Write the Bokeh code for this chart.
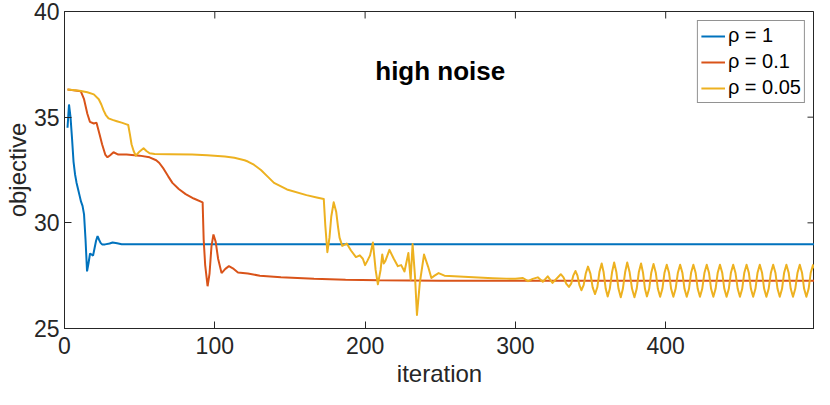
import math
from bokeh.plotting import figure
from bokeh.models import Range1d, Label, FixedTicker
from bokeh.embed import file_html
from bokeh.resources import INLINE

# ---- data ----
it_rho1 = [2, 3, 4, 5, 6, 7, 8, 9, 10, 11, 12, 13, 14, 15, 16, 17, 18, 19, 20, 21,
           22, 23, 24, 25, 27, 30, 32, 35, 38, 499]
obj_rho1 = [34.5, 35.6, 35.0, 34.0, 32.9, 32.3, 31.9, 31.6, 31.3, 31.0, 30.8, 30.4, 29.2,
            27.7, 28.1, 28.55, 28.5, 28.45, 28.8, 29.15, 29.37, 29.2, 29.05, 28.98, 28.98,
            29.02, 29.07, 29.03, 28.99, 28.99]

it_rho01 = [2, 6, 10.8, 13, 15.2, 16.9, 19.5, 21.3, 23.4, 25, 27.1, 28.6, 30.4, 32.6, 35.8,
            41.3, 50, 56.6, 61, 63.1, 66, 69, 71.8, 76, 80.6, 86, 91.9, 92.6, 93.6, 95.2,
            96.5, 97.8, 99.1, 100.6, 102.2, 104.5, 107, 109.4, 112, 115.4, 122, 130, 144,
            166, 187, 209, 250, 499]
obj_rho01 = [36.31, 36.27, 36.23, 35.85, 35.16, 34.78, 34.7, 34.74, 34.17, 33.72, 33.23,
             33.1, 33.2, 33.34, 33.23, 33.23, 33.18, 33.1, 32.96, 32.83, 32.55, 32.2, 31.89,
             31.6, 31.36, 31.15, 30.97, 29.2, 28.0, 27.0, 27.6, 28.9, 29.45, 29.1, 28.3,
             27.62, 27.82, 27.95, 27.85, 27.65, 27.6, 27.5, 27.43, 27.35, 27.31, 27.28,
             27.26, 27.26]

# rho = 0.05: descent and irregular part
it_rho005_a = [2, 10, 15.2, 19.5, 22.8, 24.5, 26, 27.5, 29.3, 32, 34.8, 38, 41.3, 42.4, 43.5,
               44.6, 46, 47.4, 50, 52.6, 54.5, 56.6, 60, 70, 84.9, 95, 106.7, 113, 119.8, 122,
               126, 130.7, 135, 139.4, 148, 161, 167.8, 172.5, 173.5, 174.9, 176.3, 177.5,
               179.1, 180.8, 182, 183, 184.8, 187.8, 190.6, 193.9, 196.5, 198.5, 200, 201.5,
               203.3, 205.2, 207, 208.5, 210.3, 211.4, 212.4, 213.5, 216.2, 219, 221.8, 224,
               226.2, 228.8, 230.3, 231.6, 233.2, 234.5, 236.4, 239.2, 241.9, 244.1, 246.2,
               248.9, 252.8, 259.3, 272, 285, 294, 300, 305, 308.4, 311.5, 314.9, 318.2,
               321.5, 324.7]
obj_rho005_a = [36.31, 36.25, 36.18, 36.08, 35.85, 35.6, 35.32, 35.1, 34.94, 34.87, 34.81,
                34.74, 34.66, 34.63, 34.2, 33.72, 33.4, 33.18, 33.38, 33.53, 33.4, 33.29,
                33.26, 33.25, 33.23, 33.2, 33.14, 33.08, 32.96, 32.9, 32.75, 32.5, 32.2, 31.89,
                31.58, 31.31, 31.2, 31.13, 29.9, 28.61, 29.3, 30.3, 30.97, 30.51, 29.8, 29.3,
                28.91, 29.02, 28.69, 28.38, 28.46, 28.3, 28.0, 28.2, 28.46, 29.07, 27.77,
                27.09, 27.77, 28.5, 28.08, 28.2, 28.72, 28.31, 27.95, 28.0, 27.7, 28.57, 27.31,
                29.0, 27.47, 25.64, 27.16, 28.5, 27.93, 27.39, 27.5, 27.62, 27.5, 27.47, 27.42,
                27.38, 27.36, 27.35, 27.39, 27.24, 27.35, 27.42, 27.21, 27.47, 27.16]

# rho = 0.05: oscillating tail (peaks, troughs and the points between them)
it_rho005_b = [330.2, 332.0, 333.8, 335.6, 337.1, 338.5, 340.0, 341.3, 342.6, 343.9, 345.4,
               346.8, 348.3, 349.9, 351.4, 353.0, 354.5, 355.9, 357.4, 358.7, 360.1, 361.4,
               362.8, 364.3, 365.7, 367.2, 368.6, 370.1, 371.5, 373.0, 374.4, 376.0, 377.6,
               379.2, 380.7, 382.1, 383.6, 384.9, 386.2, 387.5, 389.0, 390.4, 391.9, 393.4,
               394.8, 396.3, 397.8, 399.2, 400.7, 402.2, 403.6, 405.1, 406.6, 408.1, 409.6,
               411.1, 412.5, 414.0, 415.5, 416.9, 418.4, 419.9, 421.3, 422.8, 424.3, 425.8,
               427.3, 428.8, 430.2, 431.7, 433.2, 434.6, 436.1, 437.6, 439.0, 440.5, 442.0,
               443.4, 444.9, 446.4, 447.9, 449.4, 450.9, 452.3, 453.8, 455.3, 456.7, 458.2,
               459.7, 461.1, 462.6, 464.1, 465.5, 467.0, 468.5, 470.0, 471.5, 473.0, 474.4,
               475.9, 477.4, 478.8, 480.3, 481.8, 483.2, 484.7, 486.2, 487.7, 489.2, 490.7,
               492.1, 493.6, 495.1, 496.5, 498.0, 499.0]
obj_rho005_b = [27.57, 27.42, 27.12, 26.97, 27.12, 27.50, 27.72, 27.50, 27.05, 26.81, 27.05,
                27.60, 27.93, 27.60, 26.95, 26.63, 26.95, 27.67, 28.08, 27.66, 26.88, 26.51,
                26.88, 27.66, 28.12, 27.66, 26.88, 26.48, 26.88, 27.66, 28.12, 27.66, 26.88,
                26.48, 26.88, 27.66, 28.08, 27.64, 26.88, 26.52, 26.88, 27.64, 28.05, 27.64,
                26.88, 26.50, 26.88, 27.64, 28.02, 27.64, 26.88, 26.50, 26.88, 27.64, 28.02,
                27.64, 26.88, 26.50, 26.88, 27.64, 28.02, 27.64, 26.88, 26.50, 26.88, 27.64,
                28.02, 27.64, 26.88, 26.50, 26.88, 27.64, 28.02, 27.64, 26.88, 26.50, 26.88,
                27.64, 28.02, 27.64, 26.88, 26.50, 26.88, 27.64, 28.02, 27.64, 26.88, 26.50,
                26.88, 27.64, 28.02, 27.64, 26.88, 26.50, 26.88, 27.64, 28.02, 27.64, 26.88,
                26.50, 26.88, 27.64, 28.02, 27.64, 26.88, 26.50, 26.88, 27.64, 28.02, 27.64,
                26.88, 26.50, 26.88, 27.64, 28.00, 27.85]

it_rho005 = it_rho005_a + it_rho005_b
obj_rho005 = obj_rho005_a + obj_rho005_b

x_ticks = [0, 100, 200, 300, 400]
y_ticks = [25, 30, 35, 40]
x_lim = [0, 499]
y_lim = [25, 40]
series_labels = ["ρ = 1", "ρ = 0.1", "ρ = 0.05"]
title_text = "high noise"

# ---- figure ----
AX = "#262626"
FONT = "Liberation Sans"

p = figure(width=814, height=389, output_backend="svg", toolbar_location=None,
           x_range=Range1d(*x_lim), y_range=Range1d(*y_lim),
           min_border_left=56, min_border_right=0, min_border_top=11, min_border_bottom=50)
p.xgrid.visible = False
p.ygrid.visible = False
p.outline_line_color = AX
p.outline_line_width = 1
p.background_fill_color = "white"
p.border_fill_color = "white"

colors = ["#0072BD", "#D95319", "#EDB120"]
p.line(it_rho1, obj_rho1, line_color=colors[0], line_width=2, legend_label=series_labels[0])
p.line(it_rho01, obj_rho01, line_color=colors[1], line_width=2, legend_label=series_labels[1])
p.line(it_rho005, obj_rho005, line_color=colors[2], line_width=2, legend_label=series_labels[2],
       line_join="round")

# mirrored inward ticks on the top and right edges of the box (clipped to the frame)
p.scatter(x=x_ticks, y=[y_lim[1]] * len(x_ticks), marker="dash", angle=math.pi / 2,
          size=14, line_color=AX, line_width=1)
p.scatter(x=[x_lim[1]] * len(y_ticks), y=y_ticks, marker="dash",
          size=14, line_color=AX, line_width=1)

for ax, ticks in ((p.xaxis[0], x_ticks), (p.yaxis[0], y_ticks)):
    ax.ticker = FixedTicker(ticks=ticks)
    ax.axis_line_color = AX
    ax.major_tick_line_color = AX
    ax.major_tick_in = 7
    ax.major_tick_out = 0
    ax.minor_tick_line_color = None
    ax.major_label_text_font = FONT
    ax.major_label_text_color = AX
    ax.major_label_text_font_size = "23px"
    ax.axis_label_text_font = FONT
    ax.axis_label_text_color = AX
    ax.axis_label_text_font_style = "normal"
    ax.axis_label_text_font_size = "24px"

xa = p.xaxis[0]
ya = p.yaxis[0]
xa.axis_label = "iteration"
ya.axis_label = "objective"
xa.major_label_standoff = 8
ya.major_label_standoff = 5
xa.axis_label_standoff = 3
ya.axis_label_standoff = 0

p.add_layout(Label(x=250, y=37.2, text=title_text, text_align="center",
                   text_baseline="alphabetic", text_font=FONT, text_font_size="26px",
                   text_font_style="bold", text_color="black"))

lg = p.legend[0]
lg.location = "top_right"
lg.margin = 9
lg.padding = 3
lg.spacing = 3
lg.glyph_width = 24
lg.glyph_height = 22
lg.label_height = 22
lg.label_standoff = 3
lg.label_text_font = FONT
lg.label_text_font_size = "20px"
lg.label_text_color = "black"
lg.border_line_color = AX
lg.border_line_width = 1
lg.background_fill_color = "white"
lg.background_fill_alpha = 1

open("out.html", "w").write(file_html(p, INLINE))
